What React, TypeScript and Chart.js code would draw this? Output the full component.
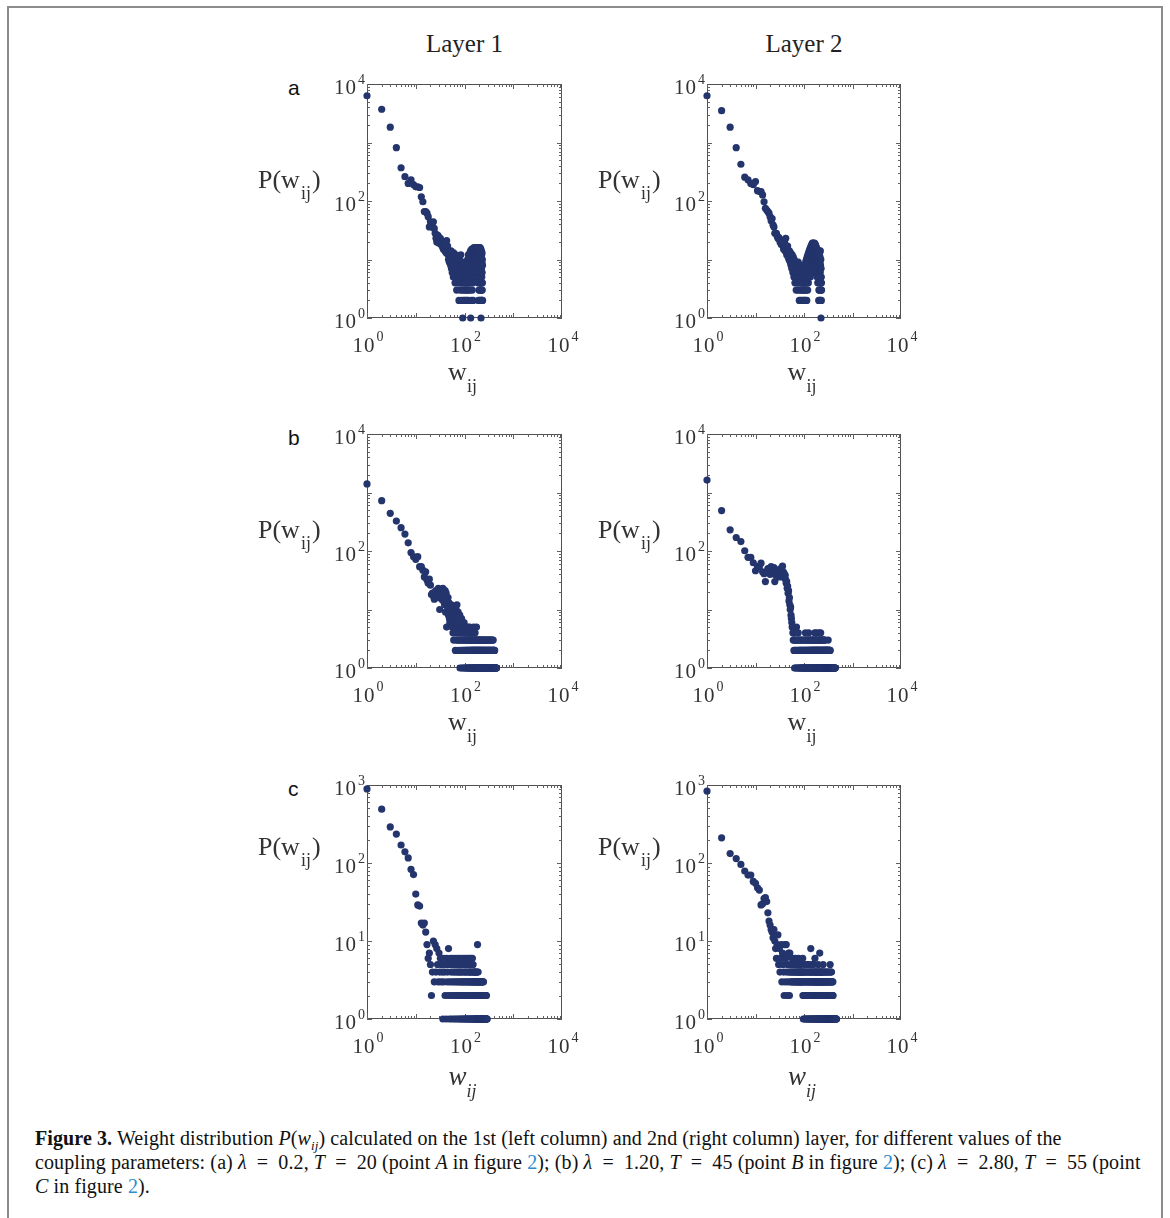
import React, { useEffect, useRef } from "react";
import { Chart, registerables } from "chart.js";

Chart.register(...registerables);

// ---------- DATA: P(w) = number of links with weight w, for w = 1, 2, 3, ... (0 = no point) ----------
// Row (a): lambda = 0.2, T = 20
const layer1A: number[] = [
  6300, 3700, 1830, 815, 370, 260, 200, 230, 190, 175,
  175, 170, 118, 97, 66, 66, 62, 54, 36, 44,
  41, 36, 44, 34, 28, 23, 20, 26, 25, 19,
  22, 23, 18, 20, 17, 16, 15, 19, 16, 14,
  18, 13, 21, 15, 17, 12, 10, 13, 9, 11,
  12, 8, 14, 7, 10, 6, 11, 9, 5, 13,
  8, 6, 10, 4, 7, 12, 5, 9, 3, 8,
  6, 11, 4, 7, 5, 9, 2, 6, 10, 4,
  7, 3, 5, 12, 6, 2, 8, 4, 6, 3,
  9, 1, 5, 7, 2, 4, 6, 3, 8, 5,
  2, 6, 4, 9, 3, 5, 7, 2, 4, 6,
  3, 8, 5, 2, 6, 10, 4, 7, 3, 12,
  5, 9, 2, 6, 11, 4, 8, 3, 13, 7,
  5, 9, 14, 1, 6, 10, 4, 12, 2, 8,
  15, 5, 11, 3, 7, 13, 9, 4, 14, 2,
  10, 15, 6, 12, 8, 16, 5, 11, 14, 7,
  13, 9, 15, 6, 12, 10, 16, 8, 14, 5,
  11, 15, 7, 13, 9, 16, 6, 12, 14, 8,
  10, 15, 5, 13, 7, 16, 9, 11, 14, 4,
  12, 15, 2, 8, 13, 6, 16, 3, 10, 14,
  5, 11, 2, 15, 7, 3, 12, 9, 16, 4,
  13, 2, 8, 10, 3, 15, 6, 1, 11, 4,
  14, 2, 7, 3, 12, 5, 9, 2, 13, 6,
  3, 10, 4, 8, 2,
];

const layer2A: number[] = [
  6300, 3500, 1830, 815, 425, 255, 230, 200, 190, 215,
  150, 145, 145, 127, 97, 75, 70, 66, 62, 54,
  46, 50, 39, 36, 28, 28, 28, 25, 23, 24,
  23, 20, 21, 18, 19, 20, 17, 15, 16, 19,
  14, 23, 15, 12, 16, 17, 11, 13, 10, 14,
  12, 9, 13, 8, 11, 7, 12, 10, 6, 11,
  9, 5, 10, 7, 4, 8, 6, 9, 3, 7,
  5, 8, 4, 6, 3, 9, 5, 7, 4, 2,
  6, 8, 3, 5, 2, 7, 4, 6, 3, 5,
  2, 7, 4, 3, 6, 2, 5, 4, 7, 3,
  6, 2, 4, 8, 3, 5, 2, 9, 4, 6,
  3, 10, 5, 2, 7, 11, 4, 8, 3, 12,
  6, 9, 4, 13, 7, 10, 5, 14, 8, 11,
  6, 15, 9, 12, 5, 16, 10, 13, 7, 17,
  11, 14, 6, 18, 9, 15, 12, 8, 19, 13,
  10, 16, 7, 19, 12, 14, 9, 18, 11, 15,
  8, 17, 13, 10, 19, 6, 15, 12, 16, 9,
  14, 18, 7, 13, 11, 17, 8, 15, 10, 16,
  12, 6, 14, 9, 15, 11, 5, 13, 8, 14,
  10, 4, 12, 7, 14, 6, 11, 5, 13, 9,
  2, 12, 3, 8, 14, 5, 10, 3, 7, 13,
  2, 9, 4, 11, 3, 6, 14, 2, 8, 5,
  3, 10, 4, 1, 7, 3, 5, 2, 4, 3,
];

// Row (b): lambda = 1.20, T = 45
const layer1B: number[] = [
  1400, 725, 440, 325, 250, 195, 138, 94, 80, 72,
  80, 54, 54, 47, 36, 44, 32, 28, 33, 26,
  18, 19, 17, 15, 20, 21, 18, 16, 23, 20,
  10, 19, 18, 15, 17, 23, 14, 16, 12, 21,
  9, 19, 5, 14, 11, 16, 8, 13, 7, 6,
  11, 9, 6, 12, 8, 5, 10, 4, 7, 3,
  9, 6, 4, 8, 2, 5, 10, 3, 7, 12,
  4, 6, 3, 9, 5, 2, 7, 4, 3, 8,
  1, 5, 3, 6, 2, 4, 7, 1, 3, 5,
  2, 6, 4, 1, 3, 5, 2, 6, 1, 4,
  3, 2, 5, 1, 3, 2, 4, 1, 5, 2,
  3, 1, 4, 2, 3, 1, 5, 2, 3, 1,
  2, 4, 1, 3, 2, 1, 3, 5, 1, 2,
  3, 1, 2, 4, 1, 3, 2, 1, 3, 2,
  1, 3, 2, 1, 4, 2, 3, 1, 2, 1,
  3, 2, 1, 5, 1, 2, 3, 1, 2, 1,
  3, 1, 2, 1, 4, 2, 1, 3, 1, 2,
  1, 3, 1, 2, 1, 5, 2, 1, 3, 1,
  2, 1, 3, 1, 2, 0, 1, 3, 2, 1,
  1, 2, 0, 3, 1, 2, 1, 0, 2, 3,
  1, 0, 2, 1, 3, 1, 0, 2, 1, 0,
  3, 1, 2, 0, 1, 2, 1, 3, 0, 1,
  2, 0, 1, 3, 1, 0, 2, 1, 0, 2,
  1, 3, 0, 1, 2, 0, 1, 0, 3, 1,
  0, 2, 1, 0, 1, 3, 0, 2, 1, 0,
  1, 2, 0, 1, 0, 3, 1, 0, 2, 0,
  1, 0, 2, 1, 0, 3, 0, 1, 0, 2,
  1, 0, 0, 2, 1, 0, 3, 0, 1, 0,
  2, 0, 1, 0, 0, 3, 1, 0, 2, 0,
  1, 0, 0, 2, 0, 1, 0, 3, 0, 1,
  0, 2, 0, 1, 0, 0, 3, 0, 1, 0,
  2, 0, 1, 0, 0, 1, 0, 2, 0, 3,
  0, 1, 0, 0, 2, 0, 1, 0, 0, 3,
  1, 0, 2, 0, 0, 1, 0, 0, 2, 0,
  1, 0, 0, 3, 0, 1, 0, 2, 0, 0,
  1, 0, 0, 2, 0, 0, 1, 0, 3, 0,
  0, 1, 0, 0, 2, 0, 1, 0, 0, 1,
  0, 3, 0, 0, 1, 0, 2, 0, 0, 1,
  0, 0, 2, 0, 1, 0, 0, 3, 0, 1,
  0, 0, 1, 0, 2, 0, 0, 1, 0, 0,
  2, 0, 1, 0, 0, 1, 0, 0, 2, 0,
  0, 1, 0, 0, 2, 0, 1, 0, 0, 1,
  0, 0, 1, 0, 0, 1, 0, 0, 0, 1,
  0, 0, 1, 0, 0, 0, 1, 0, 0, 1,
  0, 0, 0, 1, 0, 0, 1, 0, 0, 1,
  0, 0, 1, 0, 0,
];

const layer2B: number[] = [
  1630, 490, 230, 170, 145, 101, 78, 78, 63, 46,
  54, 54, 62, 44, 41, 30, 44, 50, 47, 40,
  54, 44, 48, 52, 30, 39, 45, 42, 47, 38,
  36, 44, 50, 41, 47, 55, 36, 43, 36, 40,
  38, 32, 28, 30, 23, 25, 19, 21, 14, 16,
  12, 10, 11, 8, 7, 6, 5, 5, 4, 3,
  4, 2, 3, 1, 2, 3, 1, 2, 3, 5,
  1, 2, 3, 1, 2, 4, 1, 3, 2, 1,
  2, 3, 1, 2, 1, 3, 2, 1, 2, 1,
  3, 1, 2, 1, 2, 3, 1, 2, 1, 1,
  2, 1, 3, 1, 2, 1, 4, 2, 1, 3,
  1, 2, 1, 3, 2, 1, 2, 1, 3, 1,
  2, 1, 1, 2, 4, 1, 2, 3, 1, 2,
  1, 3, 1, 2, 1, 2, 1, 3, 2, 1,
  2, 1, 3, 1, 2, 1, 2, 1, 3, 2,
  1, 2, 1, 2, 3, 1, 2, 1, 2, 1,
  3, 1, 2, 1, 2, 1, 4, 1, 2, 3,
  1, 2, 1, 2, 1, 3, 1, 2, 4, 1,
  2, 1, 2, 3, 1, 2, 1, 2, 1, 1,
  3, 1, 2, 1, 2, 1, 1, 3, 2, 1,
  2, 1, 1, 2, 4, 1, 2, 1, 3, 1,
  1, 2, 1, 1, 2, 3, 1, 2, 1, 1,
  4, 1, 2, 1, 3, 1, 2, 1, 1, 2,
  1, 3, 1, 2, 1, 1, 2, 1, 3, 1,
  2, 1, 1, 2, 1, 3, 1, 1, 2, 1,
  1, 2, 1, 3, 1, 1, 2, 1, 1, 2,
  1, 1, 3, 1, 2, 1, 1, 2, 1, 3,
  1, 2, 1, 1, 2, 1, 1, 1, 2, 1,
  1, 1, 2, 1, 1, 1, 2, 1, 1, 1,
  2, 1, 1, 1, 2, 1, 1, 1, 2, 1,
  1, 1, 2, 1, 1, 1, 1, 2, 1, 1,
  1, 2, 1, 1, 3, 1, 1, 2, 1, 1,
  1, 1, 2, 1, 1, 1, 1, 2, 1, 1,
  2, 1, 1, 1, 1, 2, 1, 1, 1, 1,
  2, 1, 1, 1, 1, 1, 2, 1, 1, 1,
  1, 1, 1, 1, 1, 1, 1, 1, 1, 1,
  1, 0, 1, 1, 0, 1, 1, 0, 1, 1,
  0, 1, 1, 0, 1, 0, 1, 1, 0, 1,
  1, 0, 1, 0, 1, 1, 0, 1, 0, 1,
  0, 1, 0, 1, 1, 0, 1, 0, 1, 0,
  1, 0, 1, 0, 0, 1, 0, 1, 0, 1,
  0, 1, 0, 0, 1, 0, 1, 0, 0, 1,
  0, 0, 1, 0, 1, 0, 0, 1, 0, 0,
  1, 0, 0, 1, 0, 0, 1, 0, 0, 1,
];

// Row (c): lambda = 2.80, T = 55
const layer1C: number[] = [
  890, 490, 290, 235, 170, 139, 116, 83, 71, 40,
  29, 28, 17, 16, 17, 13, 9, 6, 7, 5,
  2, 4, 10, 3, 9, 4, 8, 5, 3, 7,
  4, 6, 3, 5, 4, 1, 3, 6, 4, 2,
  5, 1, 6, 3, 4, 2, 8, 5, 1, 3,
  6, 2, 4, 1, 5, 3, 2, 6, 4, 1,
  3, 5, 2, 4, 1, 6, 3, 2, 5, 4,
  1, 3, 2, 6, 4, 1, 5, 3, 2, 4,
  1, 6, 3, 2, 4, 1, 5, 3, 2, 1,
  4, 3, 6, 2, 1, 5, 3, 2, 4, 1,
  2, 3, 6, 1, 4, 2, 5, 3, 1, 2,
  4, 1, 3, 6, 2, 1, 5, 3, 2, 4,
  1, 3, 2, 6, 1, 4, 2, 3, 5, 1,
  2, 4, 1, 3, 6, 2, 1, 4, 3, 2,
  5, 1, 3, 2, 6, 4, 1, 2, 3, 5,
  1, 2, 4, 3, 1, 2, 3, 1, 4, 2,
  1, 3, 2, 4, 1, 2, 3, 1, 2, 4,
  3, 1, 2, 1, 4, 3, 1, 2, 1, 3,
  2, 1, 4, 3, 9, 1, 2, 3, 1, 4,
  2, 1, 3, 1, 2, 0, 1, 3, 2, 1,
  1, 2, 3, 1, 0, 2, 1, 3, 1, 2,
  1, 0, 2, 3, 1, 2, 1, 0, 3, 1,
  2, 1, 0, 3, 1, 2, 0, 1, 2, 1,
  3, 0, 1, 2, 1, 0, 2, 1, 3, 0,
  1, 2, 0, 1, 3, 1, 0, 2, 1, 0,
  2, 1, 0, 1, 2, 0, 1, 0, 2, 1,
  0, 1, 2, 0, 1, 0, 2, 1, 0, 1,
  2, 0, 1, 0, 1, 2, 0, 1, 0, 1,
  0, 2, 1, 0, 1, 0, 0, 1, 0, 1,
];

const layer2C: number[] = [
  835, 210, 132, 114, 96, 79, 70, 70, 58, 55,
  48, 45, 29, 30, 35, 36, 32, 23, 18, 16,
  14, 13, 11, 14, 10, 8, 6, 9, 12, 5,
  8, 4, 6, 9, 3, 7, 5, 4, 2, 9,
  3, 6, 9, 4, 2, 5, 3, 7, 4, 2,
  7, 4, 3, 5, 4, 3, 6, 4, 3, 5,
  4, 3, 5, 4, 3, 6, 4, 3, 4, 5,
  3, 4, 5, 3, 4, 3, 6, 4, 3, 4,
  5, 3, 4, 3, 4, 5, 3, 4, 3, 4,
  3, 4, 3, 6, 2, 4, 1, 3, 4, 2,
  3, 1, 4, 2, 5, 3, 1, 4, 2, 3,
  1, 4, 2, 3, 5, 1, 2, 4, 3, 1,
  2, 3, 4, 1, 2, 5, 3, 1, 4, 2,
  3, 1, 2, 4, 3, 1, 2, 8, 4, 1,
  3, 2, 4, 1, 5, 3, 2, 1, 4, 3,
  1, 2, 3, 4, 1, 2, 5, 3, 1, 2,
  4, 3, 1, 2, 3, 4, 1, 6, 2, 3,
  1, 4, 2, 3, 1, 2, 4, 1, 3, 2,
  1, 4, 3, 2, 1, 3, 4, 2, 1, 3,
  2, 1, 4, 3, 2, 1, 5, 3, 2, 1,
  3, 4, 1, 2, 3, 1, 4, 2, 1, 3,
  7, 1, 2, 4, 3, 1, 2, 3, 1, 4,
  2, 1, 3, 2, 4, 1, 2, 3, 1, 2,
  4, 1, 3, 2, 1, 2, 3, 1, 4, 2,
  1, 3, 2, 1, 4, 2, 1, 5, 3, 1,
  2, 1, 3, 2, 1, 4, 1, 2, 3, 1,
  2, 1, 1, 3, 2, 1, 4, 1, 2, 1,
  3, 1, 2, 1, 1, 2, 3, 1, 4, 1,
  2, 1, 1, 3, 1, 2, 1, 1, 2, 4,
  1, 1, 2, 3, 1, 1, 2, 1, 1, 3,
  1, 2, 1, 1, 4, 1, 2, 1, 1, 3,
  1, 1, 2, 1, 1, 3, 1, 2, 1, 1,
  4, 1, 1, 2, 1, 3, 1, 1, 2, 1,
  1, 3, 1, 1, 2, 1, 1, 4, 1, 1,
  2, 1, 3, 1, 1, 5, 1, 1, 1, 3,
  1, 1, 2, 1, 1, 1, 4, 1, 1, 2,
  1, 1, 3, 1, 1, 2, 1, 1, 4, 1,
  1, 2, 1, 0, 3, 1, 1, 2, 0, 1,
  1, 0, 2, 1, 0, 3, 1, 0, 1, 2,
  0, 1, 0, 3, 1, 0, 2, 0, 1, 0,
  1, 0, 1, 0, 0, 1, 0, 1, 0, 0,
  1, 0, 0, 1, 0, 1, 0, 0, 1, 0,
  0, 1, 0, 0, 1, 0, 0, 1, 0, 0,
  1, 0, 0, 1, 0, 0, 0, 1, 0, 0,
  1, 0, 0, 0, 1, 0, 0, 1, 0, 0,
  0, 1, 0, 0, 0, 1, 0, 0, 0, 1,
  0, 0, 1, 0, 0, 0, 0, 1, 0, 0,
];

// Axis ranges / tick labels (powers of ten)
const X_TICK_EXPS = [0, 2, 4];
const Y_TICK_EXPS_AB = [0, 2, 4];
const Y_TICK_EXPS_C = [0, 1, 2, 3];
const X_MAX = 10000;
const Y_MAX_AB = 10000;
const Y_MAX_C = 1000;

const COLUMN_TITLES = ["Layer 1", "Layer 2"];
const ROW_LETTERS = ["a", "b", "c"];

// ---------- STYLE / LAYOUT ----------
const DOT = "#24346c";
const TEXT = "#333333";
const SERIF = "'Liberation Serif', 'Times New Roman', serif";
const COL_LEFT = [367, 707];
const COL_WIDTH = [195, 194];
const ROW_TOP = [84, 434, 785];
const PLOT_H = 234;
const PAD = { left: 50, top: 16, right: 26, bottom: 46 };

type PanelProps = {
  counts: number[];
  plotLeft: number;
  plotTop: number;
  plotWidth: number;
  yMax: number;
  yExps: number[];
};

function drawPow(ctx: CanvasRenderingContext2D, exp: number, x: number, yBase: number, align: "center" | "right", raise: number) {
  const baseFont = `21px ${SERIF}`;
  const expFont = `14px ${SERIF}`;
  const c = ctx as any;
  ctx.font = baseFont;
  c.letterSpacing = "1px";
  const w10 = ctx.measureText("10").width;
  c.letterSpacing = "0px";
  ctx.font = expFont;
  const we = ctx.measureText(String(exp)).width;
  const total = w10 + 1 + we;
  const x0 = align === "center" ? x - total / 2 : x - total;
  ctx.textAlign = "left";
  ctx.textBaseline = "alphabetic";
  ctx.fillStyle = TEXT;
  ctx.font = baseFont;
  c.letterSpacing = "1px";
  ctx.fillText("10", x0, yBase);
  c.letterSpacing = "0px";
  ctx.font = expFont;
  ctx.fillText(String(exp), x0 + w10 + 1, yBase - raise);
}

function LogPanel({ counts, plotLeft, plotTop, plotWidth, yMax, yExps }: PanelProps) {
  const ref = useRef<HTMLCanvasElement | null>(null);
  const cw = plotWidth + PAD.left + PAD.right;
  const ch = PLOT_H + PAD.top + PAD.bottom;

  useEffect(() => {
    if (!ref.current) return;
    const points = counts
      .map((c, i) => ({ x: i + 1, y: c }))
      .filter((p) => p.y > 0);

    const axesPlugin = {
      id: "boxAxes",
      beforeDatasetsDraw(chart: any) {
        const { ctx, chartArea: a, scales } = chart;
        const xs = scales.x;
        const ys = scales.y;
        ctx.save();
        // box
        ctx.strokeStyle = "#505050";
        ctx.lineWidth = 1;
        ctx.strokeRect(a.left + 0.5, a.top + 0.5, a.right - a.left - 1, a.bottom - a.top - 1);
        // inward ticks on all four sides
        ctx.strokeStyle = "#606060";
        ctx.beginPath();
        const xDec = Math.round(Math.log10(X_MAX));
        for (let e = 0; e < xDec; e++) {
          for (let m = 1; m <= 9; m++) {
            const px = Math.round(xs.getPixelForValue(m * Math.pow(10, e))) + 0.5;
            const len = m === 1 ? 5 : 3;
            ctx.moveTo(px, a.bottom);
            ctx.lineTo(px, a.bottom - len);
            ctx.moveTo(px, a.top);
            ctx.lineTo(px, a.top + len);
          }
        }
        const yDec = Math.round(Math.log10(yMax));
        for (let e = 0; e < yDec; e++) {
          for (let m = 1; m <= 9; m++) {
            const py = Math.round(ys.getPixelForValue(m * Math.pow(10, e))) + 0.5;
            const len = m === 1 ? 5 : 3;
            ctx.moveTo(a.left, py);
            ctx.lineTo(a.left + len, py);
            ctx.moveTo(a.right, py);
            ctx.lineTo(a.right - len, py);
          }
        }
        ctx.stroke();
        // tick labels
        X_TICK_EXPS.forEach((e) => {
          const px = xs.getPixelForValue(Math.pow(10, e));
          drawPow(ctx, e, px + 1, a.bottom + 34, "center", 11);
        });
        yExps.forEach((e) => {
          const py = ys.getPixelForValue(Math.pow(10, e));
          drawPow(ctx, e, a.left - 2, py + 10, "right", 10);
        });
        ctx.restore();
      },
    };

    const chart = new Chart(ref.current, {
      type: "scatter",
      data: {
        datasets: [
          {
            data: points,
            backgroundColor: DOT,
            borderColor: DOT,
            borderWidth: 0,
            pointRadius: 3.6,
            pointHoverRadius: 3.6,
            clip: false as any,
          },
        ],
      },
      options: {
        animation: false,
        responsive: false,
        maintainAspectRatio: false,
        events: [],
        layout: { padding: PAD },
        plugins: { legend: { display: false }, tooltip: { enabled: false }, title: { display: false } },
        scales: {
          x: { type: "logarithmic", min: 1, max: X_MAX, display: false },
          y: { type: "logarithmic", min: 1, max: yMax, display: false },
        },
      },
      plugins: [axesPlugin as any],
    });
    return () => chart.destroy();
  }, [counts, yMax, yExps]);

  return (
    <canvas
      ref={ref}
      width={cw}
      height={ch}
      style={{ position: "absolute", left: plotLeft - PAD.left, top: plotTop - PAD.top, width: cw, height: ch }}
    />
  );
}

function PLabel({ left, top }: { left: number; top: number }) {
  return (
    <div style={{ position: "absolute", left, top, fontFamily: SERIF, fontSize: 26, lineHeight: "25px", color: TEXT, whiteSpace: "nowrap" }}>
      P(w<span style={{ fontSize: 18, position: "relative", top: 11, margin: "0 1px" }}>ij</span>)
    </div>
  );
}

function WLabel({ center, top, italic }: { center: number; top: number; italic: boolean }) {
  return (
    <div
      style={{
        position: "absolute",
        left: center - 60,
        width: 120,
        top,
        textAlign: "center",
        fontFamily: SERIF,
        fontSize: italic ? 27 : 26,
        lineHeight: "25px",
        color: TEXT,
        fontStyle: italic ? "italic" : "normal",
        whiteSpace: "nowrap",
      }}
    >
      w<span style={{ fontSize: 18, position: "relative", top: 12 }}>ij</span>
    </div>
  );
}

const Blue = ({ children }: { children: React.ReactNode }) => <span style={{ color: "#2b8ccf" }}>{children}</span>;
const EQ = "\u2002=\u2002";

export default function App() {
  const panels = [
    [layer1A, layer2A],
    [layer1B, layer2B],
    [layer1C, layer2C],
  ];
  const rowYMax = [Y_MAX_AB, Y_MAX_AB, Y_MAX_C];
  const rowYExps = [Y_TICK_EXPS_AB, Y_TICK_EXPS_AB, Y_TICK_EXPS_C];
  const pLabelBaseline = [104, 104, 70];

  return (
    <div style={{ position: "absolute", left: 0, top: 0, width: 1170, height: 1218, overflow: "hidden", background: "#fff" }}>
      <div
        style={{
          position: "absolute",
          left: 7,
          top: 6,
          width: 1156,
          height: 1240,
          border: "2px solid #8c8c8c",
          boxSizing: "border-box",
        }}
      />
      {COLUMN_TITLES.map((t, c) => (
        <div
          key={t}
          style={{
            position: "absolute",
            left: COL_LEFT[c] + COL_WIDTH[c] / 2 - 100,
            width: 200,
            top: 31,
            textAlign: "center",
            fontFamily: SERIF,
            fontSize: 25,
            lineHeight: "25px",
            color: "#222",
          }}
        >
          {t}
        </div>
      ))}
      {ROW_LETTERS.map((l, r) => (
        <div
          key={l}
          style={{
            position: "absolute",
            left: 288,
            top: ROW_TOP[r] + 11 - 17,
            fontFamily: "'Liberation Sans', Arial, sans-serif",
            fontSize: 21,
            lineHeight: "20px",
            color: "#111",
          }}
        >
          {l}
        </div>
      ))}
      {panels.map((row, r) =>
        row.map((counts, c) => (
          <React.Fragment key={`${r}-${c}`}>
            <LogPanel
              counts={counts}
              plotLeft={COL_LEFT[c]}
              plotTop={ROW_TOP[r]}
              plotWidth={COL_WIDTH[c]}
              yMax={rowYMax[r]}
              yExps={rowYExps[r]}
            />
            <PLabel left={COL_LEFT[c] - 109} top={ROW_TOP[r] + pLabelBaseline[r] - 21} />
            <WLabel
              center={COL_LEFT[c] + COL_WIDTH[c] / 2 - 2}
              top={ROW_TOP[r] + PLOT_H + (r === 2 ? 66 : 62) - 21}
              italic={r === 2}
            />
          </React.Fragment>
        ))
      )}
      <div
        style={{
          position: "absolute",
          left: 35,
          top: 1126,
          width: 1125,
          fontFamily: SERIF,
          fontSize: 20,
          lineHeight: "24px",
          letterSpacing: "0.1px",
          color: "#111",
          whiteSpace: "nowrap",
        }}
      >
        <div>
          <b>Figure 3.</b> Weight distribution <i>P</i>(<i>w</i>
          <sub style={{ fontSize: 13, lineHeight: 0 }}>
            <i>ij</i>
          </sub>
          ) calculated on the 1st (left column) and 2nd (right column) layer, for different values of the
        </div>
        <div>
          coupling parameters: (a) <i>λ</i>{EQ}0.2, <i>T</i>{EQ}20 (point <i>A</i> in figure <Blue>2</Blue>); (b) <i>λ</i>{EQ}1.20,{" "}
          <i>T</i>{EQ}45 (point <i>B</i> in figure <Blue>2</Blue>); (c) <i>λ</i>{EQ}2.80, <i>T</i>{EQ}55 (point
        </div>
        <div>
          <i>C</i> in figure <Blue>2</Blue>).
        </div>
      </div>
    </div>
  );
}
